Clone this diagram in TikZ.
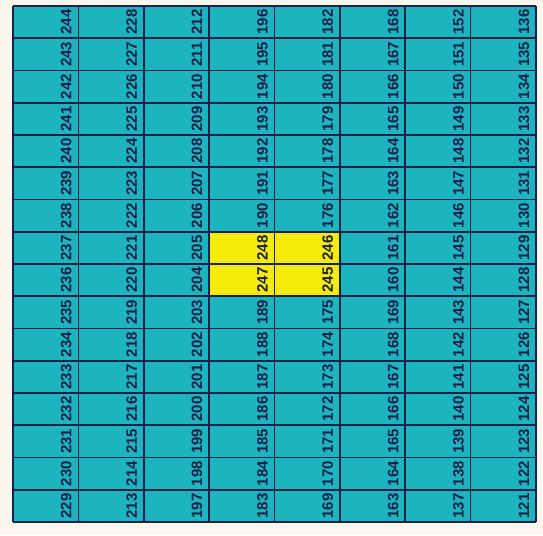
\documentclass[tikz,border=0pt]{standalone}
\usepackage{fontspec}
\setmainfont{Liberation Sans}
\definecolor{bgcream}{RGB}{250,247,237}
\definecolor{cellteal}{RGB}{28,180,190}
\definecolor{cellyellow}{RGB}{246,236,10}
\definecolor{gridline}{RGB}{28,32,72}
\begin{document}
\begin{tikzpicture}[x=1pt,y=-1pt,
  num/.style={rotate=90,anchor=base,inner sep=0pt,font=\bfseries\fontsize{15}{15}\selectfont,text=gridline},
  gridl/.style={draw=gridline,line width=1.7pt}]
\fill[bgcream] (0,0) rectangle (543,535);
\useasboundingbox (0,0) rectangle (543,535);
\fill[cellteal] (13,6) rectangle (536,522);
\fill[cellyellow] (209.125,231.75) rectangle (339.875,296.25);
\foreach \i in {0,...,8} {
  \draw[gridl] ({13+\i*65.375},6) -- ({13+\i*65.375},522);
}
\foreach \j in {0,...,16} {
  \draw[gridl] (13,{6+\j*32.25}) -- (536,{6+\j*32.25});
}
\foreach \c/\L in {
  1/{244,243,242,241,240,239,238,237,236,235,234,233,232,231,230,229},
  2/{228,227,226,225,224,223,222,221,220,219,218,217,216,215,214,213},
  3/{212,211,210,209,208,207,206,205,204,203,202,201,200,199,198,197},
  4/{196,195,194,193,192,191,190,248,247,189,188,187,186,185,184,183},
  5/{182,181,180,179,178,177,176,246,245,175,174,173,172,171,170,169},
  6/{168,167,166,165,164,163,162,161,160,169,168,167,166,165,164,163},
  7/{152,151,150,149,148,147,146,145,144,143,142,141,140,139,138,137},
  8/{136,135,134,133,132,131,130,129,128,127,126,125,124,123,122,121}} {
  \foreach \n [count=\r] in \L {
    \node[num] (n-\c-\r) at ({13+\c*65.375-7},{6+(\r-0.5)*32.25}) {\n};
  }
}
\end{tikzpicture}
\end{document}
